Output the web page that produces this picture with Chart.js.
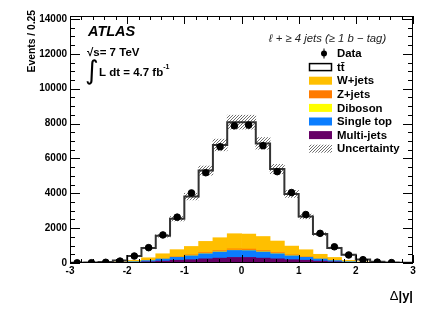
<!DOCTYPE html>
<html>
<head>
<meta charset="utf-8">
<script src="https://cdn.jsdelivr.net/npm/chart.js@4.4.1/dist/chart.umd.min.js"></script>
<style>
html,body{margin:0;padding:0;background:#fff;}
#c{display:block;}
</style>
</head>
<body>
<canvas id="c" width="436" height="313"></canvas>
<script>
// bins of delta|y|, 0.25 wide
var binCentres = [-2.875,-2.625,-2.375,-2.125,-1.875,-1.625,-1.375,-1.125,-0.875,-0.625,-0.375,-0.125,
                  0.125,0.375,0.625,0.875,1.125,1.375,1.625,1.875,2.125,2.375,2.625,2.875];
var binEdges = [-3,-2.75,-2.5,-2.25,-2,-1.75,-1.5,-1.25,-1,-0.75,-0.5,-0.25,
                0,0.25,0.5,0.75,1,1.25,1.5,1.75,2,2.25,2.5,2.75,3];

var multiJets = [2,4,8,18,40,70,110,160,190,240,280,320,320,280,240,190,160,110,70,40,18,8,4,2];
var singleTop = [1,3,6,14,35,70,120,170,220,290,350,400,390,350,290,220,170,120,70,35,14,6,3,1];
var diboson   = [0,0,1,2,3,5,7,10,12,15,18,20,20,18,15,12,10,7,5,3,2,1,0,0];
var zJets     = [0,1,2,4,8,15,25,35,45,55,65,70,70,65,55,45,35,25,15,8,4,2,1,0];
var wJets     = [2,2,8,22,64,140,268,390,483,640,737,870,860,807,660,503,385,238,160,64,22,8,2,2];
var ttbar     = [10,20,35,90,250,560,1030,1775,2860,4060,5320,6400,6420,5340,4130,2990,1910,1160,540,320,140,45,15,5];
var uncert    = [1,2,3,8,20,45,80,130,190,265,335,400,400,340,270,200,135,85,45,25,10,4,2,1];
var dataPts   = [10,15,40,110,400,880,1610,2630,4020,5180,6670,7870,7910,6730,5240,4040,2780,1700,930,460,190,50,20,null];

var xTicks = [-3,-2,-1,0,1,2,3];
var yTicks = [0,2000,4000,6000,8000,10000,12000,14000];

var colMulti = '#660066', colSingle = '#0a7dff', colDib = '#ffff00', colZ = '#ff7b00', colW = '#ffbf00';

var FONT = '"Liberation Sans", Arial, sans-serif';

// hatch pattern for the uncertainty band
var pc = document.createElement('canvas');
pc.width = 3; pc.height = 3;
var pg = pc.getContext('2d');
pg.strokeStyle = '#333';
pg.lineWidth = 0.7;
pg.beginPath();
pg.moveTo(0, 3); pg.lineTo(3, 0);
pg.moveTo(-1, 1); pg.lineTo(1, -1);
pg.moveTo(2, 4); pg.lineTo(4, 2);
pg.stroke();
var hatch = pg.createPattern(pc, 'repeat');

var mcTotal = binCentres.map(function(x, i) {
  return multiJets[i] + singleTop[i] + diboson[i] + zJets[i] + wJets[i] + ttbar[i];
});
// histogram outline: each edge carries the value of the bin that starts there
var stepPts = binEdges.map(function(x, i) {
  return {x: x, y: mcTotal[Math.min(i, mcTotal.length - 1)]};
});

function xy(arr) {
  return binCentres.map(function(x, i) { return {x: x, y: arr[i]}; });
}

var annotate = {
  id: 'annotate',
  afterDraw: function(chart) {
    var ctx = chart.ctx;
    var a = chart.chartArea;
    var xs = chart.scales.x, ys = chart.scales.y;
    ctx.save();

    // frame + ROOT style inward ticks
    ctx.strokeStyle = '#000';
    ctx.lineWidth = 1;
    ctx.strokeRect(a.left + 0.5, a.top + 0.5, a.right - a.left - 1, a.bottom - a.top - 1);
    ctx.beginPath();
    for (var v = 0; v <= 14000; v += 500) {
      var py = Math.round(ys.getPixelForValue(v)) + 0.5;
      var len = v % 2000 === 0 ? 10 : 5;
      ctx.moveTo(a.left, py); ctx.lineTo(a.left + len, py);
      ctx.moveTo(a.right, py); ctx.lineTo(a.right - len, py);
    }
    for (var i = -15; i <= 15; i++) {
      var px = Math.round(xs.getPixelForValue(i * 0.2)) + 0.5;
      var l2 = i % 5 === 0 ? 8 : 4;
      ctx.moveTo(px, a.bottom); ctx.lineTo(px, a.bottom - l2);
      ctx.moveTo(px, a.top); ctx.lineTo(px, a.top + l2);
    }
    ctx.stroke();

    ctx.fillStyle = '#000';
    ctx.textBaseline = 'middle';
    ctx.textAlign = 'left';

    // axis titles
    ctx.font = 'bold 10.3px ' + FONT;
    ctx.save();
    ctx.translate(32, 10);
    ctx.rotate(-Math.PI / 2);
    ctx.textAlign = 'right';
    ctx.fillText('Events / 0.25', 0, 0);
    ctx.restore();

    ctx.textAlign = 'right';
    ctx.font = 'bold 13px ' + FONT;
    var wy = ctx.measureText('|y|').width;
    ctx.fillText('|y|', 413, 296);
    ctx.font = '13px ' + FONT;
    ctx.fillText('\u0394', 413 - wy, 296);

    // ATLAS labels
    ctx.textAlign = 'left';
    ctx.font = 'italic bold 14.5px ' + FONT;
    ctx.fillText('ATLAS', 88, 32);
    ctx.font = 'bold 11.5px ' + FONT;
    ctx.fillText('\u221As= 7 TeV', 87, 52.5);
    ctx.fillText('L dt = 4.7 fb', 99, 73);
    var wl = ctx.measureText('L dt = 4.7 fb').width;
    ctx.font = 'bold 7px ' + FONT;
    ctx.fillText('-1', 99 + wl, 67);
    ctx.font = '26px "DejaVu Sans"';
    ctx.fillText('\u222B', 85, 72);

    ctx.font = 'italic 11.3px ' + FONT;
    ctx.fillStyle = '#222';
    ctx.fillText('\u2113 + \u2265 4 jets (\u2265 1 b \u2212 tag)', 269, 38.5);

    // legend
    var rows = [
      {label: 'Data', kind: 'data'},
      {label: 'tt\u0304', kind: 'box', fill: '#fff', stroke: '#000'},
      {label: 'W+jets', kind: 'box', fill: colW},
      {label: 'Z+jets', kind: 'box', fill: colZ},
      {label: 'Diboson', kind: 'box', fill: colDib},
      {label: 'Single top', kind: 'box', fill: colSingle},
      {label: 'Multi-jets', kind: 'box', fill: colMulti},
      {label: 'Uncertainty', kind: 'hatch'}
    ];
    rows.forEach(function(r, k) {
      var cy = 53.5 + k * 13.6;
      if (r.kind === 'data') {
        ctx.fillStyle = '#000';
        ctx.beginPath();
        ctx.arc(324, cy, 3, 0, Math.PI * 2);
        ctx.fill();
        ctx.fillRect(323.5, cy - 5, 1, 10);
      } else if (r.kind === 'box') {
        ctx.fillStyle = r.fill;
        ctx.fillRect(309, cy - 4, 23, 8);
        if (r.stroke) {
          ctx.strokeStyle = r.stroke;
          ctx.lineWidth = 1.5;
          ctx.strokeRect(309.5, cy - 3.5, 22, 7);
        }
      } else {
        ctx.fillStyle = hatch;
        ctx.fillRect(309, cy - 4, 23, 8);
      }
      ctx.fillStyle = '#000';
      ctx.font = 'bold 11.4px ' + FONT;
      ctx.fillText(r.label, 337, cy + 0.5);
    });

    ctx.restore();
  }
};

new Chart(document.getElementById('c'), {
  type: 'bar',
  data: {
    datasets: [
      {type: 'scatter', label: 'Data', data: xy(dataPts), stack: 'data', order: 0,
       backgroundColor: '#000', borderColor: '#000', pointRadius: 3.3, pointHoverRadius: 3.3},
      {type: 'line', label: 'MC total', data: stepPts, stack: 'line', order: 1, stepped: 'before',
       borderColor: '#333', borderWidth: 2, pointRadius: 0, fill: false},
      {label: 'Uncertainty', order: 2, stack: 'unc', backgroundColor: hatch,
       data: binCentres.map(function(x, i) { return {x: x, y: [mcTotal[i] - uncert[i], mcTotal[i] + uncert[i]]}; })},
      {label: 'Multi-jets', data: xy(multiJets), stack: 'mc', order: 3, backgroundColor: colMulti},
      {label: 'Single top', data: xy(singleTop), stack: 'mc', order: 4, backgroundColor: colSingle},
      {label: 'Diboson', data: xy(diboson), stack: 'mc', order: 5, backgroundColor: colDib},
      {label: 'Z+jets', data: xy(zJets), stack: 'mc', order: 6, backgroundColor: colZ},
      {label: 'W+jets', data: xy(wJets), stack: 'mc', order: 7, backgroundColor: colW},
      {label: 'tt\u0304', data: xy(ttbar), stack: 'mc', order: 8, backgroundColor: '#fff'}
    ]
  },
  options: {
    responsive: false,
    animation: false,
    devicePixelRatio: 1,
    layout: {padding: {left: 0, right: 23, top: 16, bottom: 0}},
    plugins: {legend: {display: false}, tooltip: {enabled: false}},
    datasets: {bar: {grouped: false, barPercentage: 1, categoryPercentage: 1, borderWidth: 0}},
    scales: {
      x: {
        type: 'linear', min: -3, max: 3, offset: false,
        grid: {display: false, drawTicks: false, offset: false}, border: {display: false},
        afterFit: function(s) { s.height = 50; },
        afterBuildTicks: function(s) { s.ticks = xTicks.map(function(v) { return {value: v}; }); },
        ticks: {color: '#000', padding: 2, maxRotation: 0, autoSkip: false,
                font: {family: FONT, size: 10, weight: 'bold'},
                callback: function(v) { return String(v); }}
      },
      y: {
        stacked: true, min: 0, max: 14170,
        grid: {display: false, drawTicks: false}, border: {display: false},
        afterFit: function(s) { s.width = 70; },
        afterBuildTicks: function(s) { s.ticks = yTicks.map(function(v) { return {value: v}; }); },
        ticks: {color: '#000', padding: 3,
                font: {family: FONT, size: 10, weight: 'bold'},
                callback: function(v) { return String(v); }}
      }
    }
  },
  plugins: [annotate]
});
</script>
</body>
</html>
